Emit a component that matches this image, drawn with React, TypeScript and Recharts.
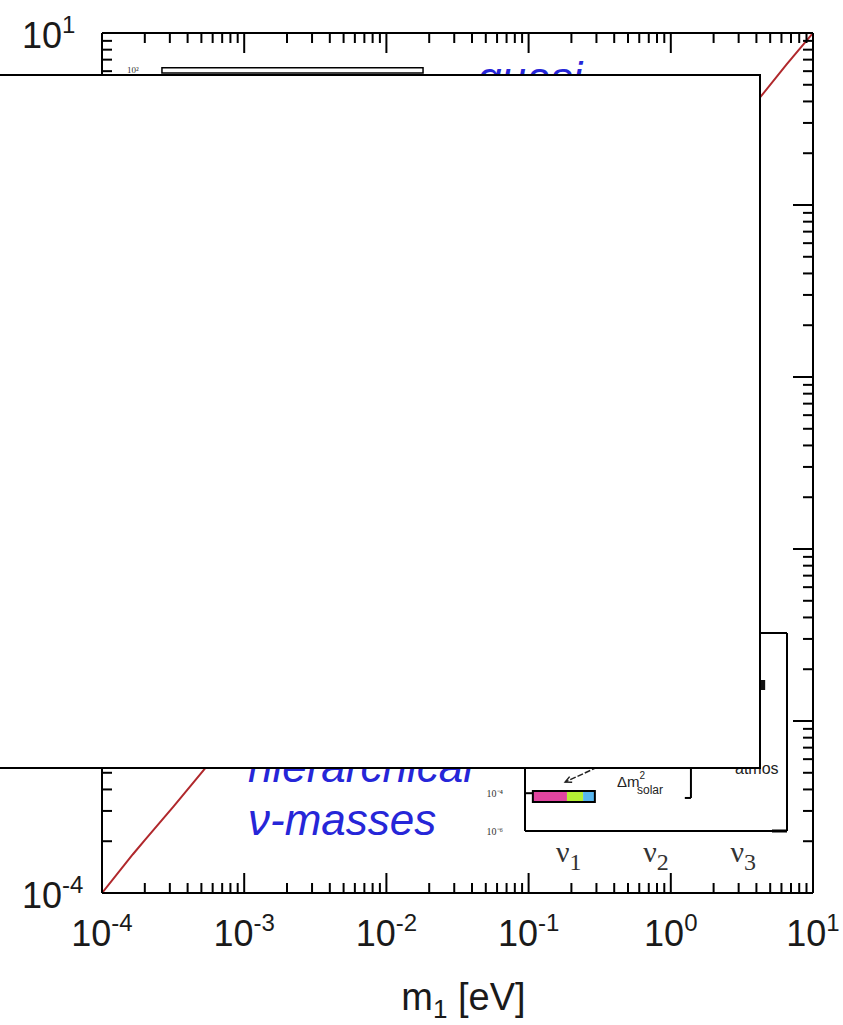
import {
  Label,
  Line,
  LineChart,
  ReferenceArea,
  ReferenceLine,
  XAxis,
  YAxis,
} from "recharts"

// main panel: lightest neutrino mass against m1 (both in eV, log-log)
const m1Values = [1e-4, 1.65e-4, 2.0e-4, 3.2e-4, 5.1e-4, 1e-3, 1e-2, 1e-1, 1, 4.4, 6.5, 10]
const lightMass = [1e-4, 1.68e-4, 2.03e-4, 3.2e-4, 5.1e-4, 1e-3, 1e-2, 1e-1, 1, 4.38, 6.55, 10]

const decades = [1e-4, 1e-3, 1e-2, 1e-1, 1, 10]
const minorSteps = [2, 3, 4, 5, 6, 7, 8, 9]

// top edge of the (mostly hidden) quasi-degenerate inset bar
const topInsetBar = { x1: 2.64e-4, x2: 1.81e-2, y1: 5.85, y2: 6.27 }

// lower right inset: hierarchical spectrum
const nuIndex = ["1", "2", "3"]
const nuTickPos = [0.5, 1.5, 2.5]
const insetTicks = [1e-6, 1e-4]
const insetTickText = ["10⁻⁶", "10⁻⁴"]
const flavourShares = [0.55, 0.26, 0.19]
const nu1Bar = { start: 0.09, width: 0.71, low: 3.4e-5, high: 1.3e-4 }
const solarArrow = [
  { x: 0.83, y: 2.4e-3 },
  { x: 0.46, y: 3.9e-4 },
]
const solarBracket = { x: 1.9, xFoot: 1.83, top: 4e-3, bottom: 5.6e-5 }
const atmosEdge = { x1: 2.69, x2: 2.75, y1: 29, y2: 98 }

const flavourColors = ["#e0449f", "#b4ef34", "#58b6ef"]
const FONT = "'Liberation Sans', Arial, Helvetica, sans-serif"
const SERIF = "'Liberation Serif', 'Times New Roman', serif"
const BLUE = "#2626d8"
const RED = "#b0282c"
const MAJOR = 20
const MINOR = 10

const data = m1Values.map((m, i) => ({ m1: m, mass: lightMass[i] }))
const insetData = nuTickPos.map((p, i) => ({ pos: p, nu: nuIndex[i] }))
const allTicks = decades.flatMap((d) =>
  d < 10 ? [d, ...minorSteps.map((s) => s * d)] : [d]
)

function isMajor(v: number) {
  const l = Math.log10(v)
  return Math.abs(l - Math.round(l)) < 1e-6
}

function Pow({ x, y, v, anchor }: { x: number; y: number; v: number; anchor: string }) {
  const e = Math.round(Math.log10(v))
  return (
    <text x={x} y={y} textAnchor={anchor} fontFamily={FONT} fontSize={36} fill="#1a1a1a">
      10
      <tspan dy={-15} fontSize={24}>
        {String(e)}
      </tspan>
    </text>
  )
}

const BottomTick = (p: any) => {
  const major = isMajor(p.payload.value)
  return (
    <g>
      <line x1={p.x} x2={p.x} y1={p.y} y2={p.y - (major ? MAJOR : MINOR)} stroke="#000" strokeWidth={2} />
      {major && <Pow x={p.x} y={p.y + 53} v={p.payload.value} anchor="middle" />}
    </g>
  )
}

const TopTick = (p: any) => {
  const major = isMajor(p.payload.value)
  return <line x1={p.x} x2={p.x} y1={p.y} y2={p.y + (major ? MAJOR : MINOR)} stroke="#000" strokeWidth={2} />
}

const LeftTick = (p: any) => {
  const major = isMajor(p.payload.value)
  return (
    <g>
      <line x1={p.x} x2={p.x + (major ? MAJOR : MINOR)} y1={p.y} y2={p.y} stroke="#000" strokeWidth={2} />
      {major && <Pow x={p.x - 80} y={p.y + 15} v={p.payload.value} anchor="start" />}
    </g>
  )
}

const RightTick = (p: any) => {
  const major = isMajor(p.payload.value)
  return <line x1={p.x} x2={p.x - (major ? MAJOR : MINOR)} y1={p.y} y2={p.y} stroke="#000" strokeWidth={2} />
}

const XTitle = (p: any) => {
  const vb = p.viewBox
  if (!vb) return null
  return (
    <text x={vb.x + vb.width / 2 + 6} y={vb.y + 117} textAnchor="middle" fontFamily={FONT} fontSize={38} fill="#1a1a1a">
      m
      <tspan dy={8} fontSize={26}>
        1
      </tspan>
      <tspan dy={-8}> [eV]</tspan>
    </text>
  )
}

const NuTick = (p: any) => {
  const i = nuTickPos.indexOf(p.payload.value)
  return (
    <text x={p.x} y={p.y + 31} textAnchor="middle" fontFamily={SERIF} fontSize={30} fill="#333">
      ν
      <tspan dy={8} fontSize={24}>
        {nuIndex[i]}
      </tspan>
    </text>
  )
}

const InsetYTick = (p: any) => {
  const i = insetTicks.indexOf(p.payload.value)
  return (
    <g>
      <line x1={p.x} x2={p.x + 8} y1={p.y} y2={p.y} stroke="#000" strokeWidth={2} />
      <text x={p.x - 22} y={p.y + 4} textAnchor="end" fontFamily={SERIF} fontSize={10} fill="#333">
        {insetTickText[i]}
      </text>
    </g>
  )
}

const InsetRightTick = (p: any) => (
  <line x1={p.x} x2={p.x - 15} y1={p.y} y2={p.y} stroke="#000" strokeWidth={3} />
)

const Blank = () => <g />

const DashedArrow = (p: any) => {
  const { x1, y1, x2, y2 } = p
  const a = Math.atan2(y2 - y1, x2 - x1)
  const h = 7
  return (
    <g stroke="#222" strokeWidth={1.5} fill="none">
      <line x1={x1} y1={y1} x2={x2} y2={y2} strokeDasharray="6 2" />
      <polyline
        points={`${x2 - h * Math.cos(a - 0.45)},${y2 - h * Math.sin(a - 0.45)} ${x2},${y2} ${
          x2 - h * Math.cos(a + 0.45)
        },${y2 - h * Math.sin(a + 0.45)}`}
      />
    </g>
  )
}

function MainPanel() {
  return (
    <LineChart
      width={843}
      height={1025}
      data={data}
      margin={{ top: 33, right: 30, bottom: 52, left: 12 }}
      style={{ position: "absolute", left: 0, top: 0 }}
    >
      <XAxis
        type="number"
        dataKey="m1"
        scale="log"
        domain={[1e-4, 10]}
        allowDataOverflow
        ticks={allTicks}
        interval={0}
        tick={BottomTick}
        tickLine={false}
        tickSize={0}
        tickMargin={0}
        axisLine={{ stroke: "#000", strokeWidth: 2 }}
        height={80}
      >
        <Label content={XTitle} />
      </XAxis>
      <XAxis
        xAxisId="top"
        orientation="top"
        mirror
        type="number"
        dataKey="m1"
        scale="log"
        domain={[1e-4, 10]}
        allowDataOverflow
        ticks={allTicks}
        interval={0}
        tick={TopTick}
        tickLine={false}
        tickSize={0}
        tickMargin={0}
        axisLine={{ stroke: "#000", strokeWidth: 2 }}
        height={1}
      />
      <YAxis
        type="number"
        scale="log"
        domain={[1e-4, 10]}
        allowDataOverflow
        ticks={allTicks}
        interval={0}
        tick={LeftTick}
        tickLine={false}
        tickSize={0}
        tickMargin={0}
        axisLine={{ stroke: "#000", strokeWidth: 2 }}
        width={90}
      />
      <YAxis
        yAxisId="right"
        orientation="right"
        mirror
        type="number"
        scale="log"
        domain={[1e-4, 10]}
        allowDataOverflow
        ticks={allTicks}
        interval={0}
        tick={RightTick}
        tickLine={false}
        tickSize={0}
        tickMargin={0}
        axisLine={{ stroke: "#000", strokeWidth: 2 }}
        width={1}
      />
      <ReferenceArea
        x1={topInsetBar.x1}
        x2={topInsetBar.x2}
        y1={topInsetBar.y1}
        y2={topInsetBar.y2}
        fill="#fff"
        fillOpacity={1}
        stroke="#000"
        strokeWidth={1.5}
      />
      <Line
        type="linear"
        dataKey="mass"
        stroke={RED}
        strokeWidth={2}
        dot={false}
        isAnimationActive={false}
      />
      <text x={127} y={73} fontFamily={SERIF} fontSize={9} fill="#333">
        10²
      </text>
      <text x={477} y={93} fontFamily={FONT} fontStyle="italic" fontSize={44} fill={BLUE}>
        quasi
      </text>
      <text x={248} y={782} fontFamily={FONT} fontStyle="italic" fontSize={44} fill={BLUE}>
        hierarchical
      </text>
      <text x={248} y={835} fontFamily={FONT} fontStyle="italic" fontSize={44} fill={BLUE}>
        ν-masses
      </text>
    </LineChart>
  )
}

function SpectrumInset() {
  let cum = 0
  const segments = flavourShares.map((s, i) => {
    const x1 = nu1Bar.start + nu1Bar.width * cum
    cum += s
    const x2 = nu1Bar.start + nu1Bar.width * cum
    return { x1, x2, color: flavourColors[i] }
  })
  return (
    <LineChart
      width={340}
      height={280}
      data={insetData}
      margin={{ top: 33, right: 23, bottom: 9, left: 15 }}
      style={{ position: "absolute", left: 470, top: 600 }}
    >
      <XAxis
        type="number"
        dataKey="pos"
        domain={[0, 3]}
        allowDataOverflow
        ticks={nuTickPos}
        interval={0}
        tick={NuTick}
        tickLine={false}
        tickSize={0}
        tickMargin={0}
        axisLine={{ stroke: "#000", strokeWidth: 2 }}
        height={40}
      />
      <XAxis
        xAxisId="top"
        orientation="top"
        mirror
        type="number"
        dataKey="pos"
        domain={[0, 3]}
        allowDataOverflow
        ticks={nuTickPos}
        tick={Blank}
        tickLine={false}
        axisLine={{ stroke: "#000", strokeWidth: 2 }}
        height={1}
      />
      <YAxis
        type="number"
        scale="log"
        domain={[1e-6, 3e4]}
        allowDataOverflow
        ticks={insetTicks}
        interval={0}
        tick={InsetYTick}
        tickLine={false}
        tickSize={0}
        tickMargin={0}
        axisLine={{ stroke: "#000", strokeWidth: 2 }}
        width={40}
      />
      <YAxis
        yAxisId="r"
        orientation="right"
        mirror
        type="number"
        scale="log"
        domain={[1e-6, 3e4]}
        allowDataOverflow
        ticks={[insetTicks[0]]}
        tick={InsetRightTick}
        tickLine={false}
        tickSize={0}
        tickMargin={0}
        axisLine={{ stroke: "#000", strokeWidth: 2 }}
        width={1}
      />
      {segments.map((s, i) => (
        <ReferenceArea
          key={`seg-${i}`}
          x1={s.x1}
          x2={s.x2}
          y1={nu1Bar.low}
          y2={nu1Bar.high}
          fill={s.color}
          fillOpacity={1}
          stroke="none"
        />
      ))}
      <ReferenceArea
        x1={nu1Bar.start}
        x2={nu1Bar.start + nu1Bar.width}
        y1={nu1Bar.low}
        y2={nu1Bar.high}
        fill="none"
        stroke="#000"
        strokeWidth={2}
      />
      <ReferenceArea
        x1={atmosEdge.x1}
        x2={atmosEdge.x2}
        y1={atmosEdge.y1}
        y2={atmosEdge.y2}
        fill="#111"
        fillOpacity={1}
        stroke="none"
      />
      <ReferenceLine segment={solarArrow} shape={DashedArrow} />
      <ReferenceLine
        segment={[
          { x: solarBracket.x, y: solarBracket.top },
          { x: solarBracket.x, y: solarBracket.bottom },
        ]}
        stroke="#000"
        strokeWidth={2}
      />
      <ReferenceLine
        segment={[
          { x: solarBracket.xFoot, y: solarBracket.bottom },
          { x: solarBracket.x, y: solarBracket.bottom },
        ]}
        stroke="#000"
        strokeWidth={2}
      />
      <text x={147} y={187} fontFamily={FONT} fontSize={15} fill="#222">
        Δm
        <tspan dy={-8} fontSize={10}>
          2
        </tspan>
        <tspan x={167} y={194} fontSize={12}>
          solar
        </tspan>
      </text>
      <text x={245} y={160} fontFamily={FONT} fontSize={15} fill="#222">
        Δm
        <tspan dy={-8} fontSize={10}>
          2
        </tspan>
        <tspan x={265} y={174} fontSize={16}>
          atmos
        </tspan>
      </text>
    </LineChart>
  )
}

export default function App() {
  return (
    <div
      style={{
        position: "absolute",
        left: 0,
        top: 0,
        width: 843,
        height: 1025,
        overflow: "hidden",
        background: "#fff",
      }}
    >
      <MainPanel />
      <SpectrumInset />
      {/* blank panel laid over the plot */}
      <div
        style={{
          position: "absolute",
          left: -10,
          top: 74,
          width: 771,
          height: 695,
          boxSizing: "border-box",
          border: "2px solid #000",
          background: "#fff",
        }}
      />
    </div>
  )
}
